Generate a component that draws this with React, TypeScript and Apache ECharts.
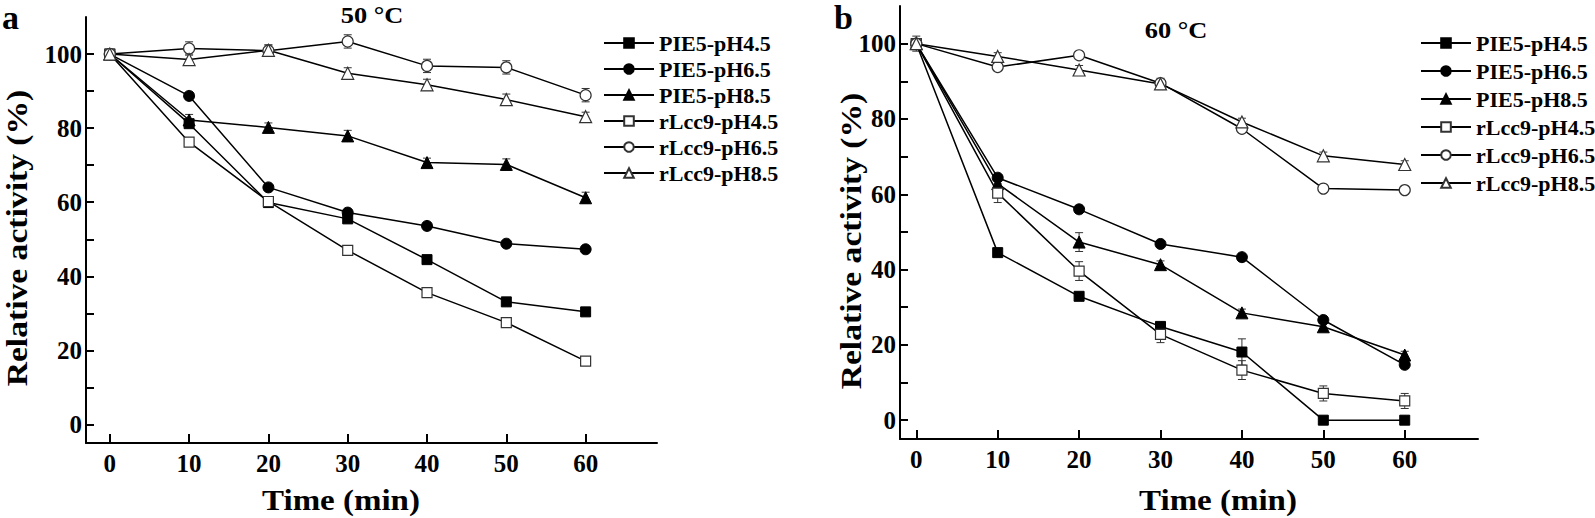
import React, { useEffect, useRef } from "react";
import * as echarts from "echarts";

const times = [0, 10, 20, 30, 40, 50, 60];
const seriesNames = ["PIE5-pH4.5", "PIE5-pH6.5", "PIE5-pH8.5", "rLcc9-pH4.5", "rLcc9-pH6.5", "rLcc9-pH8.5"];
const xTickValues = [0, 10, 20, 30, 40, 50, 60];
const yLabelValues = [0, 20, 40, 60, 80, 100];
const yTickValues = [0, 10, 20, 30, 40, 50, 60, 70, 80, 90, 100];

// Panel a: 50 °C
const a_PIE5_pH45 = [100, 81.2, 59.9, 55.5, 44.5, 33.1, 30.4];
const a_PIE5_pH65 = [100, 88.7, 64.0, 57.2, 53.6, 48.8, 47.3];
const a_PIE5_pH85 = [100, 82.2, 80.2, 77.9, 70.7, 70.2, 61.2];
const a_rLcc9_pH45 = [100, 76.2, 60.2, 47.0, 35.6, 27.5, 17.1];
const a_rLcc9_pH65 = [100, 101.5, 100.9, 103.4, 96.8, 96.4, 88.9];
const a_rLcc9_pH85 = [100, 98.5, 101.0, 94.8, 91.7, 87.7, 83.1];

const a_err_PIE5_pH45 = [0.8, 0.8, 0.8, 0.8, 0.8, 0.8, 0.8];
const a_err_PIE5_pH65 = [0.8, 0.8, 0.8, 0.8, 0.8, 0.8, 0.8];
const a_err_PIE5_pH85 = [1.0, 1.5, 1.2, 1.5, 1.2, 1.5, 1.5];
const a_err_rLcc9_pH45 = [1.0, 1.0, 1.0, 1.0, 1.0, 1.0, 1.0];
const a_err_rLcc9_pH65 = [1.2, 1.8, 1.5, 1.8, 1.8, 1.8, 1.8];
const a_err_rLcc9_pH85 = [1.2, 1.5, 1.5, 1.5, 1.5, 1.5, 1.2];

// Panel b: 60 °C
const b_PIE5_pH45 = [100, 44.5, 32.9, 24.9, 18.1, 0, 0];
const b_PIE5_pH65 = [100, 64.4, 56.0, 46.8, 43.3, 26.6, 14.7];
const b_PIE5_pH85 = [100, 62.8, 47.3, 41.3, 28.5, 24.8, 17.3];
const b_rLcc9_pH45 = [100, 60.3, 39.6, 22.8, 13.3, 7.1, 5.1];
const b_rLcc9_pH65 = [100, 93.8, 96.9, 89.5, 77.4, 61.5, 61.1];
const b_rLcc9_pH85 = [100, 96.6, 93.0, 89.3, 79.2, 70.2, 67.9];

const b_err_PIE5_pH45 = [1.0, 0.8, 0.8, 0.8, 3.5, 0.5, 0.5];
const b_err_PIE5_pH65 = [1.0, 0.8, 0.8, 0.8, 0.8, 0.8, 0.8];
const b_err_PIE5_pH85 = [1.0, 1.0, 2.5, 1.0, 1.0, 1.0, 1.0];
const b_err_rLcc9_pH45 = [2.0, 2.5, 2.5, 2.2, 2.5, 2.0, 2.0];
const b_err_rLcc9_pH65 = [1.0, 1.0, 1.0, 1.0, 1.0, 1.0, 1.0];
const b_err_rLcc9_pH85 = [1.0, 1.0, 1.2, 1.5, 1.0, 1.0, 1.0];

const panelA = [a_PIE5_pH45, a_PIE5_pH65, a_PIE5_pH85, a_rLcc9_pH45, a_rLcc9_pH65, a_rLcc9_pH85];
const panelAErr = [a_err_PIE5_pH45, a_err_PIE5_pH65, a_err_PIE5_pH85, a_err_rLcc9_pH45, a_err_rLcc9_pH65, a_err_rLcc9_pH85];
const panelB = [b_PIE5_pH45, b_PIE5_pH65, b_PIE5_pH85, b_rLcc9_pH45, b_rLcc9_pH65, b_rLcc9_pH85];
const panelBErr = [b_err_PIE5_pH45, b_err_PIE5_pH65, b_err_PIE5_pH85, b_err_rLcc9_pH45, b_err_rLcc9_pH65, b_err_rLcc9_pH85];

const FONT = "'Liberation Serif', 'Times New Roman', serif";
const symbols = ["rect", "circle", "triangle", "rect", "circle", "triangle"];
const filled = [true, true, true, false, false, false];

function makeLineSeries(values: number[][], axisIndex: number) {
  return values.map((vals, i) => ({
    name: seriesNames[i],
    type: "line",
    xAxisIndex: axisIndex,
    yAxisIndex: axisIndex,
    data: times.map((t, j) => [t, vals[j]]),
    symbol: symbols[i],
    symbolSize: symbols[i] === "triangle" ? 12 : symbols[i] === "rect" ? 10 : 11,
    lineStyle: { color: "#000", width: 1.5 },
    itemStyle: filled[i]
      ? { color: "#000", borderColor: "#000", borderWidth: 1 }
      : { color: "#fff", borderColor: "#333", borderWidth: 1.2 },
    z: 3,
  }));
}

function makeErrSeries(values: number[][], errs: number[][], axisIndex: number) {
  const data: number[][] = [];
  values.forEach((vals, i) => {
    vals.forEach((v, j) => {
      data.push([times[j], v - errs[i][j], v + errs[i][j]]);
    });
  });
  return {
    name: "err" + axisIndex,
    type: "custom",
    xAxisIndex: axisIndex,
    yAxisIndex: axisIndex,
    z: 2,
    encode: { x: 0, y: [1, 2] },
    data,
    renderItem: (params: any, api: any) => {
      const x = api.value(0);
      const p1 = api.coord([x, api.value(1)]);
      const p2 = api.coord([x, api.value(2)]);
      const w = 4;
      const st = { stroke: "#333", lineWidth: 1 };
      return {
        type: "group",
        children: [
          { type: "line", shape: { x1: p1[0], y1: p1[1], x2: p2[0], y2: p2[1] }, style: st },
          { type: "line", shape: { x1: p1[0] - w, y1: p1[1], x2: p1[0] + w, y2: p1[1] }, style: st },
          { type: "line", shape: { x1: p2[0] - w, y1: p2[1], x2: p2[0] + w, y2: p2[1] }, style: st },
        ],
      };
    },
  };
}

function xAxisCfg(gridIndex: number, min: number, max: number) {
  return {
    type: "value",
    gridIndex,
    min,
    max,
    axisLine: { show: true, onZero: false, lineStyle: { color: "#000", width: 2 } },
    axisTick: { show: true, inside: true, length: 9, customValues: xTickValues, lineStyle: { color: "#000", width: 2 } },
    axisLabel: { show: true, customValues: xTickValues, margin: 8, color: "#000", fontFamily: FONT, fontWeight: "bold", fontSize: 25 },
    splitLine: { show: false },
  };
}

function yAxisCfg(gridIndex: number) {
  return {
    type: "value",
    gridIndex,
    position: "left",
    min: -5,
    max: 110,
    axisLine: { show: true, onZero: false, lineStyle: { color: "#000", width: 2 } },
    axisTick: { show: true, inside: true, length: 8, customValues: yTickValues, lineStyle: { color: "#000", width: 2 } },
    axisLabel: { show: true, customValues: yLabelValues, margin: 4, color: "#000", fontFamily: FONT, fontWeight: "bold", fontSize: 25 },
    splitLine: { show: false },
  };
}

function legendCfg(left: number, top: number, gap: number) {
  return {
    orient: "vertical",
    left,
    top,
    padding: 0,
    itemWidth: 50,
    itemHeight: 12,
    itemGap: gap,
    data: seriesNames,
    selectedMode: false,
    textStyle: { color: "#000", fontFamily: FONT, fontWeight: "bold", fontSize: 22, lineHeight: 22 },
  };
}

export default function App() {
  const ref = useRef<HTMLDivElement>(null);
  useEffect(() => {
    if (!ref.current) return;
    const chart = echarts.init(ref.current, undefined, { renderer: "svg" });
    const textStyle = (size: number) => ({ fill: "#000", fontFamily: FONT, fontWeight: "bold", fontSize: size, textAlign: "center", textVerticalAlign: "middle" });
    chart.setOption({
      animation: false,
      backgroundColor: "#fff",
      grid: [
        { left: 86, top: 17, width: 571, height: 426, outerBoundsMode: "none", containLabel: false },
        { left: 900, top: 6, width: 578, height: 433, outerBoundsMode: "none", containLabel: false },
      ],
      xAxis: [xAxisCfg(0, -3, 69), xAxisCfg(1, -2, 69)],
      yAxis: [yAxisCfg(0), yAxisCfg(1)],
      legend: [legendCfg(603, 32, 4), legendCfg(1420, 32, 6)],
      series: [
        ...makeLineSeries(panelA, 0),
        makeErrSeries(panelA, panelAErr, 0),
        ...makeLineSeries(panelB, 1),
        makeErrSeries(panelB, panelBErr, 1),
      ],
      graphic: [
        { type: "text", left: 2, top: 0, style: { text: "a", fill: "#000", fontFamily: FONT, fontWeight: "bold", fontSize: 34 } },
        { type: "text", left: 834, top: 0, style: { text: "b", fill: "#000", fontFamily: FONT, fontWeight: "bold", fontSize: 34 } },
        { type: "text", x: 372, y: 15, scaleX: 1.1, style: { text: "50 °C", ...textStyle(24) } },
        { type: "text", x: 1176, y: 30, scaleX: 1.1, style: { text: "60 °C", ...textStyle(24) } },
        { type: "text", x: 17, y: 238, rotation: Math.PI / 2, scaleX: 1.12, style: { text: "Relative activity (%)", ...textStyle(30) } },
        { type: "text", x: 851, y: 241, rotation: Math.PI / 2, scaleX: 1.12, style: { text: "Relative activity (%)", ...textStyle(30) } },
        { type: "text", x: 341, y: 500, scaleX: 1.1, style: { text: "Time (min)", ...textStyle(30) } },
        { type: "text", x: 1218, y: 500, scaleX: 1.1, style: { text: "Time (min)", ...textStyle(30) } },
      ],
    });
    return () => chart.dispose();
  }, []);
  return <div ref={ref} style={{ position: "fixed", left: 0, top: 0, width: 1595, height: 518, background: "#fff" }} />;
}
